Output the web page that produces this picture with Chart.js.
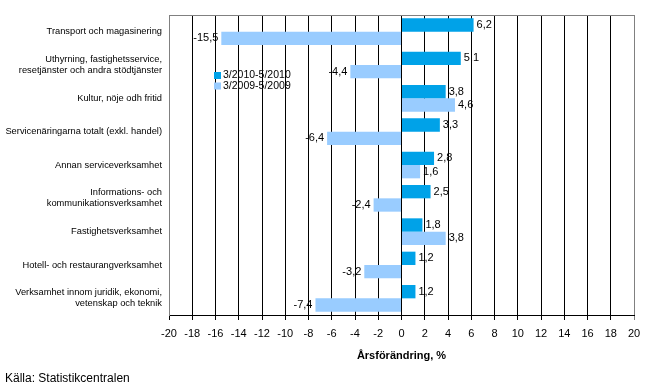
<!DOCTYPE html>
<html>
<head>
<meta charset="utf-8">
<script src="https://cdn.jsdelivr.net/npm/chart.js"></script>
<style>
  html, body { margin: 0; padding: 0; background: #fff; }
  #wrap { position: relative; width: 649px; height: 391px; }
</style>
</head>
<body>
<div id="wrap"><canvas id="chart" width="649" height="391"></canvas></div>
<script>
const categories = [
  "Transport och magasinering",
  ["Uthyrning, fastighetsservice,", "resetjänster och andra stödtjänster"],
  "Kultur, nöje odh fritid",
  "Servicenäringarna totalt (exkl. handel)",
  "Annan serviceverksamhet",
  ["Informations- och", "kommunikationsverksamhet"],
  "Fastighetsverksamhet",
  "Hotell- och restaurangverksamhet",
  ["Verksamhet innom juridik, ekonomi,", "vetenskap och teknik"]
];
const series2010 = [6.2, 5.1, 3.8, 3.3, 2.8, 2.5, 1.8, 1.2, 1.2];
const series2009 = [-15.5, -4.4, 4.6, -6.4, 1.6, -2.4, 3.8, -3.2, -7.4];
const seriesNames = ["3/2010-5/2010", "3/2009-5/2009"];
const xMin = -20, xMax = 20, xStep = 2;
const axisTitle = "Årsförändring, %";
const sourceText = "Källa: Statistikcentralen";

const FONT = "'Liberation Sans', Arial, sans-serif";

// etiketter vid stapelns ände
const valueLabels = {
  id: "valueLabels",
  afterDatasetsDraw(chart) {
    const { ctx } = chart;
    ctx.save();
    ctx.font = "11px " + FONT;
    ctx.fillStyle = "#000";
    ctx.textBaseline = "middle";
    chart.data.datasets.forEach((ds, i) => {
      chart.getDatasetMeta(i).data.forEach((bar, j) => {
        const v = ds.data[j];
        const txt = v.toFixed(1).replace(".", ",");
        if (v >= 0) {
          ctx.textAlign = "left";
          ctx.fillText(txt, bar.x + 3, bar.y);
        } else {
          ctx.textAlign = "right";
          ctx.fillText(txt, bar.x - 3, bar.y);
        }
      });
    });
    ctx.restore();
  }
};

// ram, legend och källa
const extras = {
  id: "extras",
  afterDraw(chart) {
    const { ctx, chartArea: a } = chart;
    ctx.save();
    ctx.strokeStyle = "#808080";
    ctx.lineWidth = 1;
    ctx.beginPath();
    ctx.moveTo(a.left, a.top + 0.5);
    ctx.lineTo(a.right, a.top + 0.5);
    ctx.moveTo(a.right + 0.5, a.top);
    ctx.lineTo(a.right + 0.5, a.bottom);
    ctx.stroke();

    ctx.font = "10.5px " + FONT;
    ctx.textAlign = "left";
    ctx.textBaseline = "middle";
    chart.data.datasets.forEach((ds, i) => {
      const y = 72 + i * 10.5;
      ctx.fillStyle = ds.backgroundColor;
      ctx.fillRect(214, y, 7, 7);
      ctx.fillStyle = "#000";
      ctx.fillText(ds.label, 223, y + 3.5);
    });

    ctx.font = "12px " + FONT;
    ctx.textBaseline = "alphabetic";
    ctx.fillText(sourceText, 5, 382);
    ctx.restore();
  }
};

new Chart(document.getElementById("chart").getContext("2d"), {
  type: "bar",
  data: {
    labels: categories,
    datasets: [
      { label: seriesNames[0], data: series2010, backgroundColor: "#00A2E8" },
      { label: seriesNames[1], data: series2009, backgroundColor: "#99CCFF" }
    ]
  },
  options: {
    indexAxis: "y",
    responsive: false,
    animation: false,
    events: [],
    categoryPercentage: 0.8,
    barPercentage: 1.0,
    layout: { padding: { top: 15, right: 15, left: 0, bottom: 28 } },
    plugins: {
      legend: { display: false },
      tooltip: { enabled: false }
    },
    scales: {
      x: {
        min: xMin,
        max: xMax,
        afterFit: (s) => { s.height = 48; },
        ticks: {
          stepSize: xStep,
          color: "#000",
          padding: 7,
          font: { family: FONT, size: 11 },
          callback: (v) => String(v)
        },
        grid: {
          color: (c) => (c.tick && c.tick.value === xMax ? "#808080" : "#000"),
          lineWidth: 1,
          drawTicks: true,
          tickLength: 5
        },
        border: { display: true, color: "#000" },
        title: {
          display: true,
          text: axisTitle,
          color: "#000",
          font: { family: FONT, size: 11, weight: "bold" },
          padding: { top: 4, bottom: 0 }
        }
      },
      y: {
        afterFit: (s) => {
          s.width = 169;
          s.paddingTop = 0;
          s.paddingBottom = 0;
        },
        grid: { display: false, drawTicks: false },
        border: { display: true, color: "#808080" },
        ticks: {
          color: "#000",
          padding: 7,
          font: { family: FONT, size: 9.3 }
        }
      }
    }
  },
  plugins: [valueLabels, extras]
});
</script>
</body>
</html>
